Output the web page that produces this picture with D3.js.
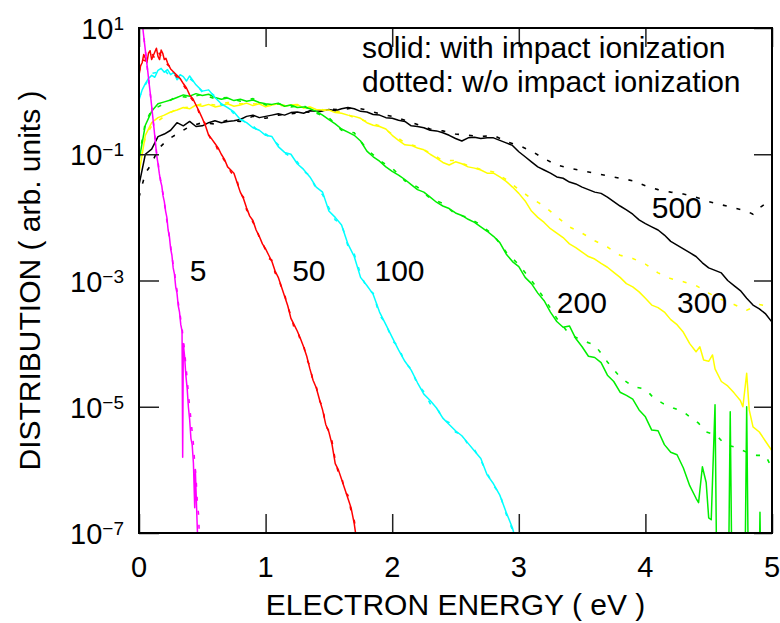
<!DOCTYPE html>
<html>
<head>
<meta charset="utf-8">
<script src="https://cdn.jsdelivr.net/npm/d3@7"></script>
<style>
  body { margin: 0; background: #fff; }
  svg text { font-family: "Liberation Sans", Arial, Helvetica, sans-serif; fill: #000; }
</style>
</head>
<body>
<svg id="chart" width="780" height="623"></svg>
<script>
// electron energy (eV) vs log10 of distribution
const solid5 = [[0.00,1.5],[0.01,1.33],[0.02,1.17],[0.03,1.0],[0.04,0.82],[0.05,0.65],[0.06,0.47],[0.07,0.3],[0.08,0.12],[0.09,-0.05],[0.10,-0.24],[0.11,-0.43],[0.12,-0.62],[0.13,-0.82],[0.14,-1.02],[0.15,-1.15],[0.16,-1.3],[0.17,-1.42],[0.18,-1.5],[0.19,-1.66],[0.20,-1.75],[0.21,-1.9],[0.22,-2.0],[0.23,-2.2],[0.24,-2.3],[0.25,-2.5],[0.26,-2.6],[0.27,-2.8],[0.28,-2.9],[0.29,-3.1],[0.30,-3.2],[0.31,-3.4],[0.32,-3.5],[0.33,-3.7],[0.34,-3.8],[0.345,-5.8],[0.35,-4.0],[0.36,-4.2],[0.37,-4.5],[0.38,-4.7],[0.39,-5.0],[0.40,-5.2],[0.41,-5.5],[0.42,-5.6],[0.43,-5.9],[0.44,-6.6],[0.445,-6.0],[0.45,-6.3],[0.46,-6.9],[0.47,-7.4]];
const dotted5 = [[0.00,1.5],[0.01,1.32],[0.02,1.16],[0.03,0.98],[0.04,0.83],[0.05,0.64],[0.06,0.48],[0.07,0.28],[0.08,0.13],[0.09,-0.06],[0.10,-0.22],[0.11,-0.45],[0.12,-0.6],[0.13,-0.8],[0.14,-1.0],[0.15,-1.12],[0.16,-1.28],[0.17,-1.4],[0.18,-1.55],[0.19,-1.62],[0.20,-1.78],[0.21,-1.88],[0.22,-2.05],[0.23,-2.15],[0.24,-2.32],[0.25,-2.45],[0.26,-2.62],[0.27,-2.75],[0.28,-2.85],[0.29,-3.05],[0.30,-3.15],[0.31,-3.35],[0.32,-3.48],[0.33,-3.62],[0.34,-3.75],[0.35,-3.95],[0.36,-4.1],[0.37,-4.35],[0.38,-4.55],[0.39,-4.8],[0.40,-5.0],[0.41,-5.2],[0.42,-5.4],[0.43,-5.6],[0.44,-5.9],[0.45,-6.1],[0.46,-6.5],[0.47,-6.7],[0.48,-7.2]];

const solid50 = [[0.000,0.25],[0.0125,0.4],[0.025,0.45],[0.0375,0.58],[0.050,0.52],[0.0625,0.45],[0.075,0.6],[0.0875,0.64],[0.100,0.5],[0.1125,0.56],[0.125,0.62],[0.1375,0.68],[0.150,0.55],[0.1625,0.5],[0.175,0.65],[0.1875,0.6],[0.200,0.5],[0.2125,0.52],[0.225,0.45],[0.2375,0.4],[0.250,0.35],[0.275,0.3],[0.300,0.25],[0.325,0.2],[0.350,0.12],[0.375,0.05],[0.400,-0.06],[0.425,-0.12],[0.450,-0.22],[0.475,-0.32],[0.500,-0.43],[0.525,-0.55],[0.550,-0.7],[0.575,-0.76],[0.600,-0.83],[0.625,-0.9],[0.650,-1.0],[0.675,-1.08],[0.700,-1.2],[0.725,-1.25],[0.750,-1.3],[0.775,-1.45],[0.800,-1.6],[0.825,-1.7],[0.850,-1.85],[0.875,-1.98],[0.900,-2.05],[0.925,-2.2],[0.950,-2.3],[0.975,-2.42],[1.000,-2.5],[1.025,-2.6],[1.050,-2.7],[1.075,-2.85],[1.100,-2.95],[1.125,-3.1],[1.150,-3.25],[1.175,-3.4],[1.200,-3.6],[1.225,-3.7],[1.250,-3.8],[1.275,-3.92],[1.300,-4.05],[1.325,-4.2],[1.350,-4.4],[1.375,-4.58],[1.400,-4.7],[1.425,-4.88],[1.450,-5.05],[1.475,-5.28],[1.500,-5.4],[1.525,-5.6],[1.550,-5.9],[1.575,-6.0],[1.600,-6.15],[1.625,-6.3],[1.650,-6.45],[1.675,-6.6],[1.700,-6.85],[1.725,-7.2]];
const dotted50 = [[0.000,0.3],[0.025,0.5],[0.050,0.48],[0.075,0.58],[0.100,0.6],[0.125,0.52],[0.150,0.63],[0.175,0.55],[0.200,0.52],[0.225,0.42],[0.250,0.38],[0.275,0.28],[0.300,0.22],[0.325,0.18],[0.350,0.1],[0.375,0.02],[0.400,-0.08],[0.425,-0.15],[0.450,-0.2],[0.475,-0.35],[0.500,-0.45],[0.525,-0.52],[0.550,-0.68],[0.575,-0.8],[0.600,-0.82],[0.625,-0.95],[0.650,-1.02],[0.675,-1.1],[0.700,-1.18],[0.725,-1.28],[0.750,-1.35],[0.775,-1.42],[0.800,-1.62],[0.825,-1.68],[0.850,-1.88],[0.875,-1.95],[0.900,-2.08],[0.925,-2.15],[0.950,-2.32],[0.975,-2.4],[1.000,-2.52],[1.025,-2.65],[1.050,-2.68],[1.075,-2.88],[1.100,-2.92],[1.125,-3.12],[1.150,-3.22],[1.175,-3.42],[1.200,-3.55],[1.225,-3.75],[1.250,-3.78],[1.275,-3.95],[1.300,-4.02],[1.325,-4.25],[1.350,-4.35],[1.375,-4.6],[1.400,-4.68],[1.425,-4.9],[1.450,-5.0],[1.475,-5.3],[1.500,-5.38],[1.525,-5.55],[1.550,-5.85],[1.575,-6.05],[1.600,-6.1],[1.625,-6.35],[1.650,-6.4],[1.675,-6.65],[1.700,-6.8],[1.725,-7.1],[1.750,-7.3]];

const solid100 = [[0.00,-0.14],[0.025,0.02],[0.05,0.12],[0.075,0.2],[0.10,0.25],[0.125,0.22],[0.15,0.33],[0.175,0.36],[0.20,0.3],[0.225,0.34],[0.25,0.26],[0.275,0.3],[0.30,0.18],[0.325,0.26],[0.35,0.23],[0.375,0.16],[0.40,0.24],[0.45,0.1],[0.50,0.0],[0.55,0.02],[0.60,-0.1],[0.65,-0.2],[0.70,-0.26],[0.75,-0.33],[0.80,-0.45],[0.85,-0.5],[0.90,-0.58],[0.95,-0.62],[1.00,-0.7],[1.05,-0.72],[1.10,-0.88],[1.15,-0.97],[1.20,-1.0],[1.25,-1.15],[1.30,-1.24],[1.35,-1.36],[1.40,-1.52],[1.45,-1.6],[1.50,-1.9],[1.55,-2.0],[1.60,-2.12],[1.65,-2.42],[1.70,-2.62],[1.75,-2.95],[1.80,-3.08],[1.85,-3.22],[1.90,-3.5],[1.95,-3.7],[2.00,-3.9],[2.05,-4.1],[2.10,-4.28],[2.15,-4.42],[2.20,-4.62],[2.25,-4.8],[2.30,-4.9],[2.35,-5.02],[2.40,-5.18],[2.45,-5.28],[2.50,-5.38],[2.55,-5.46],[2.60,-5.58],[2.65,-5.7],[2.70,-5.82],[2.75,-6.08],[2.80,-6.22],[2.85,-6.4],[2.90,-6.67],[2.95,-6.92],[3.00,-7.3]];
const dotted100 = [[0.00,-0.1],[0.05,0.1],[0.10,0.28],[0.15,0.3],[0.20,0.34],[0.25,0.22],[0.30,0.2],[0.35,0.2],[0.40,0.2],[0.45,0.12],[0.50,-0.02],[0.55,0.0],[0.60,-0.08],[0.65,-0.22],[0.70,-0.24],[0.75,-0.36],[0.80,-0.42],[0.85,-0.52],[0.90,-0.55],[0.95,-0.65],[1.00,-0.68],[1.05,-0.75],[1.10,-0.85],[1.15,-0.98],[1.20,-1.04],[1.25,-1.12],[1.30,-1.27],[1.35,-1.34],[1.40,-1.55],[1.45,-1.64],[1.50,-1.85],[1.55,-2.04],[1.60,-2.1],[1.65,-2.45],[1.70,-2.58],[1.75,-2.9],[1.80,-3.12],[1.85,-3.2],[1.90,-3.55],[1.95,-3.68],[2.00,-3.95],[2.05,-4.05],[2.10,-4.3],[2.15,-4.4],[2.20,-4.65],[2.25,-4.76],[2.30,-4.95],[2.35,-5.0],[2.40,-5.2],[2.45,-5.25],[2.50,-5.4],[2.55,-5.44],[2.60,-5.6],[2.65,-5.68],[2.70,-5.85],[2.75,-6.05],[2.80,-6.25],[2.85,-6.38],[2.90,-6.7],[2.95,-6.95],[3.00,-7.2]];

const solid200 = [[0.00,-1.1],[0.05,-0.54],[0.10,-0.32],[0.15,-0.2],[0.20,-0.17],[0.25,-0.14],[0.30,-0.1],[0.35,-0.06],[0.40,-0.08],[0.45,-0.04],[0.50,-0.07],[0.55,-0.05],[0.60,-0.1],[0.65,-0.13],[0.70,-0.11],[0.75,-0.15],[0.80,-0.13],[0.85,-0.16],[0.90,-0.14],[0.95,-0.18],[1.00,-0.2],[1.05,-0.21],[1.10,-0.19],[1.15,-0.24],[1.20,-0.22],[1.25,-0.26],[1.30,-0.25],[1.35,-0.28],[1.40,-0.32],[1.45,-0.38],[1.50,-0.45],[1.55,-0.52],[1.60,-0.6],[1.65,-0.65],[1.70,-0.7],[1.75,-0.79],[1.80,-0.95],[1.85,-1.04],[1.90,-1.11],[1.95,-1.2],[2.00,-1.27],[2.05,-1.33],[2.10,-1.4],[2.15,-1.48],[2.20,-1.56],[2.25,-1.6],[2.30,-1.68],[2.35,-1.76],[2.40,-1.82],[2.45,-1.86],[2.50,-1.93],[2.55,-1.97],[2.60,-2.03],[2.65,-2.08],[2.70,-2.15],[2.75,-2.22],[2.80,-2.3],[2.85,-2.4],[2.90,-2.58],[2.95,-2.7],[3.00,-2.78],[3.05,-2.95],[3.10,-3.05],[3.15,-3.2],[3.20,-3.32],[3.25,-3.5],[3.30,-3.65],[3.35,-3.74],[3.40,-3.72],[3.45,-3.92],[3.50,-4.05],[3.55,-4.2],[3.60,-4.22],[3.65,-4.3],[3.70,-4.5],[3.75,-4.6],[3.80,-4.77],[3.85,-4.82],[3.90,-4.88],[3.95,-5.05],[4.00,-5.16],[4.05,-5.37],[4.10,-5.38],[4.15,-5.6],[4.20,-5.72],[4.25,-5.76],[4.30,-5.97],[4.35,-6.25],[4.40,-6.45],[4.42,-6.52],[4.45,-5.95],[4.48,-6.2],[4.50,-6.76],[4.52,-6.79],[4.55,-4.97],[4.57,-9],[4.65,-9],[4.67,-5.08],[4.69,-9],[4.78,-9],[4.80,-5.0],[4.82,-9],[4.89,-9],[4.905,-6.67],[4.92,-9],[5.00,-9]];
const dotted200 = [[0.00,-1.05],[0.05,-0.5],[0.10,-0.3],[0.20,-0.2],[0.30,-0.08],[0.40,-0.1],[0.50,-0.05],[0.60,-0.12],[0.70,-0.1],[0.80,-0.16],[0.90,-0.12],[1.00,-0.22],[1.10,-0.2],[1.20,-0.25],[1.30,-0.23],[1.40,-0.35],[1.50,-0.42],[1.60,-0.62],[1.70,-0.66],[1.80,-0.92],[1.90,-1.1],[2.00,-1.22],[2.10,-1.42],[2.20,-1.52],[2.30,-1.7],[2.40,-1.78],[2.50,-1.95],[2.60,-2.0],[2.70,-2.12],[2.80,-2.28],[2.90,-2.55],[3.00,-2.75],[3.10,-3.0],[3.20,-3.28],[3.30,-3.6],[3.40,-3.85],[3.50,-3.95],[3.60,-4.02],[3.70,-4.29],[3.80,-4.53],[3.90,-4.68],[4.00,-4.72],[4.06,-4.85],[4.14,-4.95],[4.22,-5.02],[4.30,-5.08],[4.35,-5.16],[4.42,-5.26],[4.48,-5.4],[4.56,-5.45],[4.63,-5.6],[4.71,-5.64],[4.80,-5.72],[4.88,-5.77],[4.95,-5.77],[5.00,-5.98]];

const solid300 = [[0.00,-1.3],[0.05,-0.7],[0.10,-0.5],[0.15,-0.42],[0.20,-0.38],[0.25,-0.33],[0.30,-0.3],[0.35,-0.26],[0.40,-0.28],[0.45,-0.22],[0.50,-0.24],[0.55,-0.21],[0.60,-0.25],[0.65,-0.23],[0.70,-0.2],[0.75,-0.24],[0.80,-0.22],[0.85,-0.19],[0.90,-0.23],[0.95,-0.2],[1.00,-0.25],[1.05,-0.22],[1.10,-0.2],[1.15,-0.24],[1.20,-0.22],[1.25,-0.21],[1.30,-0.27],[1.35,-0.25],[1.40,-0.29],[1.45,-0.3],[1.50,-0.3],[1.55,-0.34],[1.60,-0.35],[1.65,-0.38],[1.70,-0.4],[1.75,-0.43],[1.80,-0.5],[1.85,-0.54],[1.90,-0.56],[1.95,-0.6],[2.00,-0.7],[2.05,-0.78],[2.10,-0.85],[2.15,-0.86],[2.20,-0.9],[2.25,-0.93],[2.30,-1.0],[2.35,-1.06],[2.40,-1.13],[2.45,-1.17],[2.50,-1.12],[2.55,-1.15],[2.60,-1.2],[2.65,-1.22],[2.70,-1.25],[2.75,-1.3],[2.80,-1.3],[2.85,-1.36],[2.90,-1.43],[2.95,-1.52],[3.00,-1.62],[3.05,-1.74],[3.10,-1.9],[3.15,-2.0],[3.20,-2.08],[3.25,-2.18],[3.30,-2.25],[3.35,-2.32],[3.40,-2.42],[3.45,-2.48],[3.50,-2.55],[3.55,-2.62],[3.60,-2.66],[3.65,-2.73],[3.70,-2.79],[3.75,-2.87],[3.80,-2.95],[3.85,-3.05],[3.90,-3.1],[3.95,-3.18],[4.00,-3.28],[4.05,-3.39],[4.10,-3.43],[4.15,-3.5],[4.20,-3.62],[4.25,-3.7],[4.30,-3.82],[4.35,-4.0],[4.40,-4.13],[4.43,-4.05],[4.46,-4.26],[4.50,-4.28],[4.53,-4.18],[4.55,-4.4],[4.60,-4.6],[4.65,-4.67],[4.70,-4.78],[4.75,-4.9],[4.77,-5.0],[4.80,-4.47],[4.82,-5.05],[4.85,-5.32],[4.90,-5.4],[4.95,-5.55],[5.00,-5.7]];
const dotted300 = [[0.00,-1.25],[0.05,-0.72],[0.10,-0.55],[0.20,-0.4],[0.30,-0.28],[0.40,-0.25],[0.50,-0.2],[0.60,-0.22],[0.70,-0.18],[0.80,-0.2],[0.90,-0.2],[1.00,-0.22],[1.10,-0.24],[1.20,-0.2],[1.30,-0.25],[1.40,-0.27],[1.50,-0.32],[1.60,-0.33],[1.70,-0.42],[1.80,-0.48],[1.90,-0.55],[2.00,-0.68],[2.10,-0.82],[2.20,-0.88],[2.30,-0.98],[2.40,-1.1],[2.50,-1.1],[2.60,-1.18],[2.70,-1.24],[2.80,-1.28],[2.90,-1.4],[3.00,-1.56],[3.10,-1.7],[3.20,-1.82],[3.30,-1.99],[3.40,-2.15],[3.50,-2.25],[3.60,-2.37],[3.70,-2.47],[3.80,-2.6],[3.90,-2.65],[4.00,-2.74],[4.10,-2.88],[4.20,-2.97],[4.30,-3.02],[4.40,-3.08],[4.50,-3.2],[4.60,-3.3],[4.70,-3.38],[4.80,-3.47],[4.90,-3.38],[5.00,-3.42]];

const solid500 = [[0.00,-1.49],[0.05,-1.0],[0.10,-0.92],[0.15,-0.72],[0.20,-0.68],[0.25,-0.62],[0.30,-0.5],[0.35,-0.55],[0.40,-0.48],[0.45,-0.56],[0.50,-0.55],[0.55,-0.5],[0.60,-0.47],[0.65,-0.5],[0.70,-0.48],[0.75,-0.47],[0.80,-0.45],[0.85,-0.4],[0.90,-0.38],[0.95,-0.42],[1.00,-0.4],[1.05,-0.38],[1.10,-0.36],[1.15,-0.38],[1.20,-0.34],[1.25,-0.33],[1.30,-0.35],[1.35,-0.31],[1.40,-0.32],[1.45,-0.31],[1.50,-0.29],[1.55,-0.31],[1.60,-0.28],[1.65,-0.26],[1.70,-0.28],[1.75,-0.32],[1.80,-0.33],[1.85,-0.37],[1.90,-0.38],[1.95,-0.42],[2.00,-0.43],[2.05,-0.46],[2.10,-0.48],[2.15,-0.55],[2.20,-0.56],[2.25,-0.58],[2.30,-0.62],[2.35,-0.63],[2.40,-0.66],[2.45,-0.7],[2.50,-0.75],[2.55,-0.79],[2.60,-0.74],[2.65,-0.73],[2.70,-0.75],[2.75,-0.74],[2.80,-0.74],[2.85,-0.78],[2.90,-0.82],[2.95,-0.86],[3.00,-0.96],[3.05,-1.04],[3.10,-1.12],[3.15,-1.2],[3.20,-1.25],[3.25,-1.3],[3.30,-1.36],[3.35,-1.38],[3.40,-1.44],[3.45,-1.47],[3.50,-1.52],[3.55,-1.56],[3.60,-1.6],[3.65,-1.62],[3.70,-1.68],[3.75,-1.75],[3.80,-1.82],[3.85,-1.88],[3.90,-1.95],[3.95,-2.04],[4.00,-2.1],[4.05,-2.15],[4.10,-2.2],[4.15,-2.28],[4.20,-2.38],[4.25,-2.44],[4.30,-2.5],[4.35,-2.56],[4.40,-2.62],[4.45,-2.72],[4.50,-2.8],[4.55,-2.84],[4.60,-2.88],[4.65,-3.0],[4.70,-3.08],[4.75,-3.16],[4.80,-3.28],[4.85,-3.39],[4.90,-3.45],[4.95,-3.53],[5.00,-3.66]];
const dotted500 = [[0.00,-1.68],[0.05,-1.3],[0.10,-1.15],[0.15,-0.92],[0.20,-0.82],[0.25,-0.74],[0.30,-0.68],[0.35,-0.62],[0.40,-0.56],[0.50,-0.5],[0.60,-0.52],[0.70,-0.46],[0.80,-0.48],[0.90,-0.4],[1.00,-0.43],[1.10,-0.38],[1.20,-0.36],[1.30,-0.33],[1.40,-0.34],[1.50,-0.28],[1.60,-0.3],[1.70,-0.26],[1.80,-0.3],[1.90,-0.36],[2.00,-0.4],[2.10,-0.46],[2.20,-0.53],[2.30,-0.6],[2.40,-0.63],[2.50,-0.68],[2.60,-0.7],[2.70,-0.72],[2.80,-0.7],[2.90,-0.8],[3.00,-0.86],[3.10,-0.95],[3.20,-1.07],[3.30,-1.17],[3.40,-1.22],[3.50,-1.26],[3.60,-1.3],[3.70,-1.34],[3.80,-1.38],[3.90,-1.42],[4.00,-1.5],[4.10,-1.56],[4.20,-1.6],[4.30,-1.63],[4.40,-1.68],[4.50,-1.75],[4.60,-1.8],[4.70,-1.85],[4.80,-1.9],[4.85,-1.95],[4.90,-1.85],[4.95,-1.78],[5.00,-1.72]];

const fieldLabels = ["500", "300", "200", "100", "50", "5"];
const fieldColors = ["#000000", "#ffff00", "#00ee00", "#00ffff", "#ff0000", "#ff00ff"];
const solidSets = [solid500, solid300, solid200, solid100, solid50, solid5];
const dottedSets = [dotted500, dotted300, dotted200, dotted100, dotted50, dotted5];
// where each field label sits: [energy, log10 value] at its baseline start
const labelSpots = [[4.05, -2.01], [4.25, -3.51], [3.30, -3.51], [1.86, -3.0], [1.21, -3.0], [0.40, -3.0]];

const xTicks = [0, 1, 2, 3, 4, 5];
const yTickExps = [1, -1, -3, -5, -7];
const legendLines = ["solid: with impact ionization", "dotted: w/o impact ionization"];

const W = 780, H = 623;
const margin = {left: 139, right: 8, top: 28, bottom: 90};

const svg = d3.select("#chart");
const x = d3.scaleLinear().domain([0, 5]).range([margin.left, W - margin.right]);
const y = d3.scaleLog().domain([1e-7, 10]).range([H - margin.bottom, margin.top]);
const x0 = x.range()[0], x1 = x.range()[1], y0 = y.range()[0], y1 = y.range()[1];

svg.append("defs").append("clipPath").attr("id", "plotclip")
  .append("rect").attr("x", x0).attr("y", y1).attr("width", x1 - x0).attr("height", y0 - y1);

const line = d3.line().x(d => x(d[0])).y(d => y(Math.pow(10, d[1])));

const curves = svg.append("g").attr("clip-path", "url(#plotclip)");
fieldLabels.forEach((lab, i) => {
  curves.append("path").datum(solidSets[i])
    .attr("d", line).attr("fill", "none")
    .attr("stroke", fieldColors[i]).attr("stroke-width", 1.5)
    .attr("stroke-linejoin", "round");
  curves.append("path").datum(dottedSets[i])
    .attr("d", line).attr("fill", "none")
    .attr("stroke", fieldColors[i]).attr("stroke-width", 1.6)
    .attr("stroke-dasharray", "4,10");
});

// axes: inward ticks, no labels from d3 (superscripts done below)
const tickStroke = g => g.selectAll(".tick line").attr("stroke", "#222").attr("stroke-width", 1.5);
svg.append("g").attr("transform", `translate(0,${y0})`)
  .call(d3.axisBottom(x).tickValues(xTicks).tickSize(-19).tickFormat(""))
  .call(g => g.select(".domain").remove()).call(tickStroke);
svg.append("g").attr("transform", `translate(0,${y1})`)
  .call(d3.axisTop(x).tickValues(xTicks).tickSize(-19).tickFormat(""))
  .call(g => g.select(".domain").remove()).call(tickStroke);
svg.append("g").attr("transform", `translate(${x0},0)`)
  .call(d3.axisLeft(y).tickValues(yTickExps.map(e => Math.pow(10, e))).tickSize(-20).tickFormat(""))
  .call(g => g.select(".domain").remove()).call(tickStroke);
svg.append("g").attr("transform", `translate(${x1},0)`)
  .call(d3.axisRight(y).tickValues(yTickExps.map(e => Math.pow(10, e))).tickSize(-18).tickFormat(""))
  .call(g => g.select(".domain").remove()).call(tickStroke);

svg.append("rect").attr("x", x0).attr("y", y1).attr("width", x1 - x0).attr("height", y0 - y1)
  .attr("fill", "none").attr("stroke", "#000").attr("stroke-width", 2);

// tick labels
svg.append("g").selectAll("text").data(xTicks).join("text")
  .attr("x", d => x(d)).attr("y", y0 + 44)
  .attr("text-anchor", "middle").attr("font-size", 29).text(d => d);

const yl = svg.append("g").selectAll("text").data(yTickExps).join("text")
  .attr("x", x0 - 15).attr("y", d => y(Math.pow(10, d)) + 11)
  .attr("text-anchor", "end").attr("font-size", 29);
yl.append("tspan").text("10");
yl.append("tspan").attr("font-size", 19).attr("dy", -9)
  .text(d => d < 0 ? "\u2212" + Math.abs(d) : d);

// axis titles
svg.append("text").attr("x", (x0 + x1) / 2).attr("y", 615)
  .attr("text-anchor", "middle").attr("font-size", 30)
  .text("ELECTRON ENERGY ( eV )");
svg.append("text").attr("transform", `translate(40,${(y0 + y1) / 2}) rotate(-90)`)
  .attr("text-anchor", "middle").attr("font-size", 30)
  .text("DISTRIBUTION ( arb. units )");

// legend text
svg.append("g").selectAll("text").data(legendLines).join("text")
  .attr("x", 362).attr("y", (d, i) => 58 + i * 34)
  .attr("font-size", 30).text(d => d);

// field labels next to the curves
svg.append("g").selectAll("text").data(fieldLabels).join("text")
  .attr("x", (d, i) => x(labelSpots[i][0]))
  .attr("y", (d, i) => y(Math.pow(10, labelSpots[i][1])))
  .attr("font-size", 30).text(d => d);
</script>
</body>
</html>
